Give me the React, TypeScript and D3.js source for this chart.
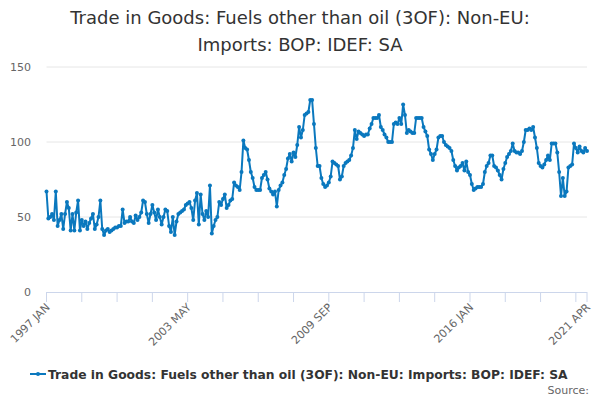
import * as d3 from "d3";

// monthly values, 1997 JAN .. 2021 APR
const y1997 = [67, 49, 50, 52, 48, 67, 44, 48, 52, 42, 52, 60];
const y1998 = [56, 41, 52, 41, 53, 61, 41, 48, 44, 47, 42, 46];
const y1999 = [49, 52, 42, 45, 50, 61, 42, 38, 41, 42, 40, 41];
const y2000 = [42, 43, 43, 44, 44, 55, 46, 47, 47, 50, 47, 46];
const y2001 = [51, 48, 50, 53, 61, 60, 52, 46, 52, 58, 53, 48];
const y2002 = [55, 50, 45, 50, 55, 54, 44, 40, 50, 38, 47, 52];
const y2003 = [53, 54, 55, 58, 59, 60, 56, 48, 61, 66, 45, 65];
const y2004 = [52, 48, 54, 50, 71, 39, 44, 48, 50, 60, 58, 62];
const y2005 = [65, 56, 58, 61, 62, 73, 71, 70, 68, 80, 101, 96];
const y2006 = [95, 88, 80, 76, 70, 68, 68, 68, 76, 78, 80, 75];
const y2007 = [69, 67, 65, 67, 57, 68, 71, 73, 78, 82, 89, 92];
const y2008 = [87, 93, 90, 98, 110, 103, 108, 118, 119, 120, 128, 128];
const y2009 = [112, 96, 84, 84, 76, 72, 70, 71, 73, 77, 87, 86];
const y2010 = [85, 84, 75, 77, 84, 86, 87, 88, 91, 96, 108, 102];
const y2011 = [107, 106, 105, 104, 105, 105, 109, 112, 116, 116, 116, 118];
const y2012 = [110, 108, 105, 103, 100, 100, 100, 112, 113, 112, 116, 112];
const y2013 = [125, 118, 106, 108, 107, 106, 106, 116, 116, 116, 116, 110];
const y2014 = [107, 104, 95, 92, 88, 92, 95, 103, 104, 104, 100, 98];
const y2015 = [97, 96, 94, 88, 84, 81, 83, 84, 86, 81, 87, 80];
const y2016 = [78, 72, 68, 69, 70, 70, 70, 72, 80, 84, 86, 91];
const y2017 = [91, 84, 83, 81, 78, 75, 82, 86, 90, 92, 94, 99];
const y2018 = [94, 93, 93, 92, 94, 100, 108, 108, 109, 108, 110, 103];
const y2019 = [96, 86, 84, 83, 85, 88, 91, 88, 99, 99, 99, 93];
const y2020 = [80, 64, 76, 64, 67, 83, 84, 85, 99, 96, 93, 97];
const y2021 = [94, 93, 96, 94];

const values = [
  ...y1997, ...y1998, ...y1999, ...y2000, ...y2001, ...y2002, ...y2003,
  ...y2004, ...y2005, ...y2006, ...y2007, ...y2008, ...y2009, ...y2010,
  ...y2011, ...y2012, ...y2013, ...y2014, ...y2015, ...y2016, ...y2017,
  ...y2018, ...y2019, ...y2020, ...y2021,
];

const months = ["JAN", "FEB", "MAR", "APR", "MAY", "JUN", "JUL", "AUG", "SEP", "OCT", "NOV", "DEC"];
const startYear = 1997;
const yTicks = [0, 50, 100, 150];
const titleLines = ["Trade in Goods: Fuels other than oil (3OF): Non-EU:", "Imports: BOP: IDEF: SA"];
const seriesName = "Trade in Goods: Fuels other than oil (3OF): Non-EU: Imports: BOP: IDEF: SA";

const W = 600;
const H = 400;
const FONT = "'DejaVu Sans', sans-serif";
const COLOR = "#0a78be";

const label = (i: number) => `${startYear + Math.floor(i / 12)} ${months[i % 12]}`;

export default function App() {
  const n = values.length;
  const x = d3.scaleLinear().domain([0, n - 1]).range([46.5, 587]);
  const y = d3.scaleLinear().domain([0, 150]).range([292, 67]);

  const line = d3
    .line<number>()
    .x((_d, i) => x(i))
    .y((d) => y(d));

  // tick every 19 months, label every fourth tick, plus the last month
  const tickIdx = d3.range(0, n, 19);
  const labelIdx = tickIdx.filter((d, k) => k % 4 === 0 && d < n - 20).concat([n - 1]);
  const allTicks = tickIdx.concat([n - 1]);

  return (
    <svg
      width={W}
      height={H}
      style={{ position: "absolute", left: 0, top: 0, background: "#fff" }}
      fontFamily={FONT}
    >
      {titleLines.map((t, k) => (
        <text key={t} x={W / 2} y={24 + k * 27} textAnchor="middle" fontSize={18} fill="#333">
          {t}
        </text>
      ))}

      {yTicks.map((t) => (
        <g key={t}>
          {t > 0 && <line x1={46.5} x2={587} y1={y(t)} y2={y(t)} stroke="#e6e6e6" />}
          <text x={31} y={y(t) + 4} textAnchor="end" fontSize={11} fill="#666">
            {t}
          </text>
        </g>
      ))}

      <line x1={46.5} x2={587} y1={292.5} y2={292.5} stroke="#ccd6eb" />
      {allTicks.map((i) => (
        <line key={i} x1={x(i)} x2={x(i)} y1={292} y2={302} stroke="#ccd6eb" />
      ))}
      {labelIdx.map((i) => (
        <text
          key={i}
          transform={`translate(${x(i) + 4},${308}) rotate(-45)`}
          textAnchor="end"
          fontSize={11}
          fill="#666"
        >
          {label(i)}
        </text>
      ))}

      <path d={line(values) ?? ""} fill="none" stroke={COLOR} strokeWidth={2} strokeLinejoin="round" />
      {values.map((v, i) => (
        <circle key={i} cx={x(i)} cy={y(v)} r={2} fill={COLOR} />
      ))}

      <g>
        <line x1={30} x2={46} y1={374} y2={374} stroke={COLOR} strokeWidth={2} />
        <circle cx={38} cy={374} r={2} fill={COLOR} />
        <text x={48} y={378.5} fontSize={12.3} fontWeight="bold" fill="#333">
          {seriesName}
        </text>
      </g>
      <text x={589} y={394} textAnchor="end" fontSize={11} fill="#666">
        Source:
      </text>
    </svg>
  );
}
